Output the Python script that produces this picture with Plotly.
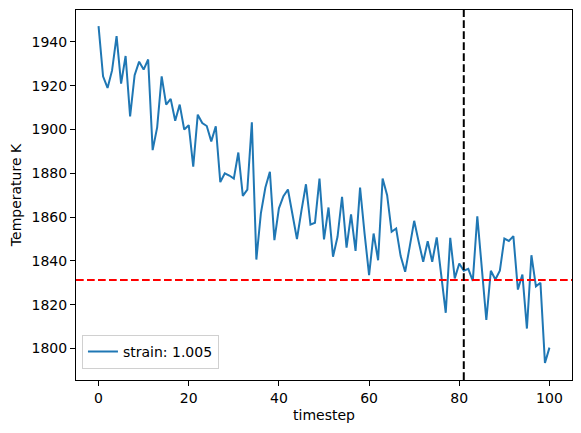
"""Temperature vs timestep for a single strain run."""

import plotly.graph_objects as go

timestep = list(range(101))
temperature = [
    1947.2, 1924.3, 1919.0, 1927.0, 1942.7, 1921.0, 1933.6, 1906.0, 1924.8, 1931.0,
    1927.4, 1932.0, 1890.6, 1901.0, 1924.3, 1911.4, 1914.0, 1904.0, 1911.4, 1900.0,
    1902.0, 1883.0, 1906.8, 1903.0, 1901.6, 1894.6, 1901.5, 1876.0, 1880.0, 1879.0,
    1877.6, 1889.5, 1869.7, 1872.6, 1903.3, 1840.6, 1861.7, 1873.5, 1880.7, 1849.5,
    1864.0, 1869.6, 1872.6, 1861.7, 1850.0, 1863.0, 1875.0, 1856.6, 1857.4, 1877.6,
    1849.8, 1864.4, 1841.9, 1851.0, 1869.3, 1846.1, 1861.3, 1844.6, 1873.5, 1852.5,
    1833.5, 1852.5, 1840.3, 1877.6, 1870.0, 1853.3, 1854.8, 1842.2, 1835.0, 1846.4,
    1858.3, 1848.7, 1839.6, 1849.0, 1839.6, 1850.7, 1832.0, 1816.3, 1850.5, 1832.0,
    1838.8, 1835.5, 1836.4, 1830.9, 1860.4, 1835.8, 1813.0, 1835.5, 1831.5, 1835.5,
    1850.2, 1849.1, 1851.3, 1826.9, 1833.8, 1809.1, 1842.6, 1828.4, 1830.0, 1793.4,
    1800.4,
]
ref_temperature = 1831.3
cut_timestep = 81
strain_label = "strain: 1.005"

x_ticks = [0, 20, 40, 60, 80, 100]
y_ticks = [1800, 1820, 1840, 1860, 1880, 1900, 1920, 1940]

AXIS = dict(
    showline=True,
    linecolor="black",
    linewidth=1,
    mirror=True,
    ticks="outside",
    ticklen=5,
    tickwidth=1,
    tickcolor="black",
    showgrid=False,
    zeroline=False,
    tickfont=dict(size=14, color="black"),
    title_font=dict(size=14, color="black"),
)

fig = go.Figure()
fig.add_trace(
    go.Scatter(
        x=timestep,
        y=temperature,
        mode="lines",
        name=strain_label,
        line=dict(color="#1f77b4", width=2),
    )
)
fig.add_hline(y=ref_temperature, line_dash="7.7px,3.3px", line_color="red", line_width=2)
fig.add_vline(x=cut_timestep, line_dash="7.7px,3.3px", line_color="black", line_width=2)

# page body adds an 8px margin, so the figure is sized to fit inside the window
fig.update_layout(
    width=573,
    height=425,
    paper_bgcolor="white",
    plot_bgcolor="white",
    font=dict(family="DejaVu Sans", size=14, color="black"),
    margin=dict(l=68, r=9, t=2, b=53),
    showlegend=True,
    legend=dict(
        x=0.012,
        y=0.03,
        xanchor="left",
        yanchor="bottom",
        bgcolor="rgba(255,255,255,0.8)",
        bordercolor="#d0d0d0",
        borderwidth=1,
        font=dict(size=14, color="black"),
    ),
    xaxis=dict(title=dict(text="timestep", standoff=5), range=[-5, 105], tickvals=x_ticks, **AXIS),
    yaxis=dict(title=dict(text="Temperature K", standoff=7), range=[1785.6, 1954.6], tickvals=y_ticks, **AXIS),
)

fig.write_html("out.html")
